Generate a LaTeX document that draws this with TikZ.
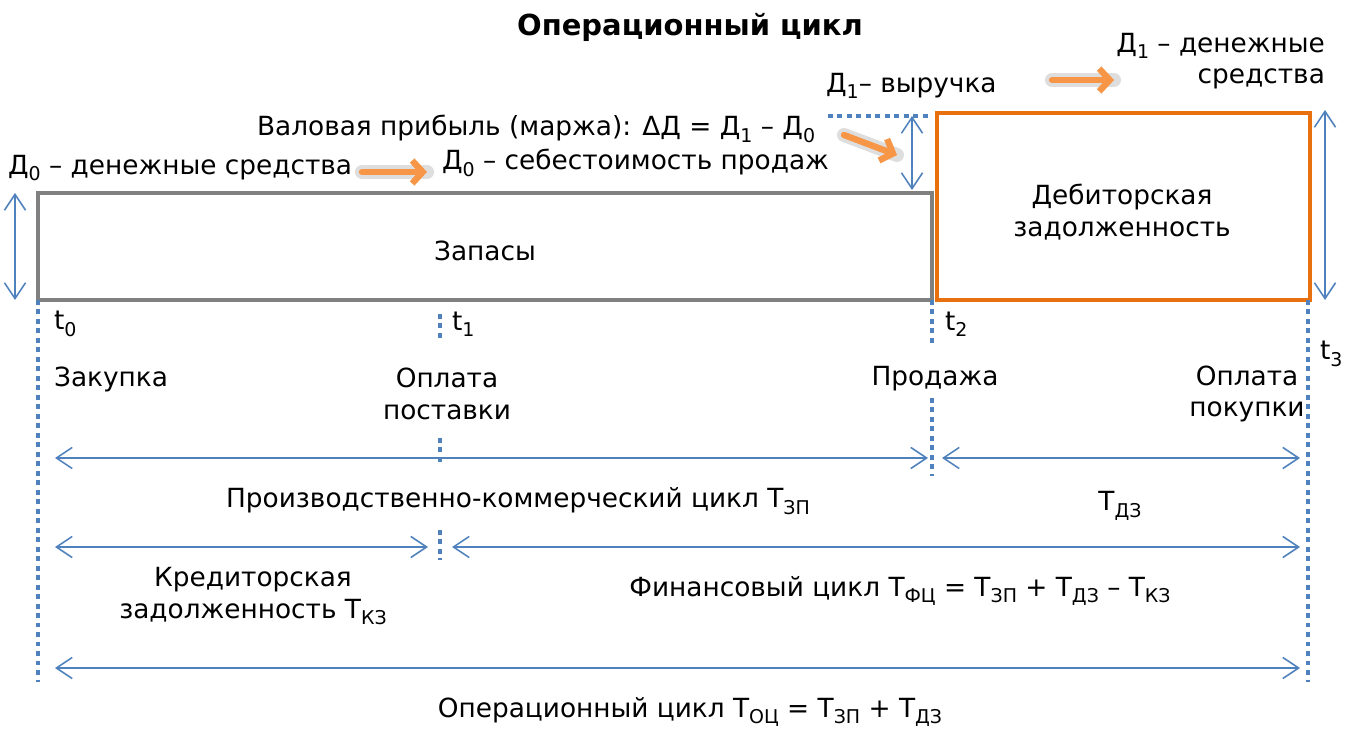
\documentclass[tikz,border=0pt]{standalone}
\usepackage{fontspec}
\setmainfont{DejaVu Sans}
\usepackage{tikz}
\usetikzlibrary{arrows.meta,positioning,calc}
\definecolor{cycblue}{HTML}{4F81BD}
\definecolor{boxorange}{HTML}{E8700F}
\definecolor{arrorange}{HTML}{F79646}
\definecolor{boxgray}{HTML}{808080}
\newcommand{\lo}[1]{\raisebox{-0.45ex}{\scalebox{0.72}{#1}}}

\begin{document}
\begin{tikzpicture}[x=0.02cm, y=-0.02cm, every node/.style={font=\fontsize{15}{18}\selectfont, inner sep=1pt}, >={Straight Barb[length=9pt,width=12pt]},
  span/.style={<->, draw=cycblue, line width=0.9pt},
  tick/.style={draw=cycblue, line width=2.8pt, dash pattern=on 2.8pt off 2.6pt},
  flow/.style={-{Straight Barb[length=6pt,width=13pt]}, draw=arrorange, line width=3.6pt, line cap=round},
  halo/.style={draw=black!13, line width=8pt, line cap=round}]
\useasboundingbox (0,0) rectangle (1356,729);

\node[font=\bfseries\fontsize{16.5}{19}\selectfont] (title) at (690,27) {Операционный цикл};

% stocks and receivables
\node[draw=boxgray, line width=2.3pt, minimum width=17.88cm, minimum height=2.14cm, inner sep=0pt] (stock) at (485,246.5) {};
\node (stocklbl) at (485,251) {Запасы};
\node[draw=boxorange, line width=2.3pt, minimum width=7.46cm, minimum height=3.74cm, inner sep=0pt] (recv) at (1123.5,206.5) {};
\node[align=center] (recvlbl) at (1122,212) {Дебиторская\\задолженность};

% time points
\coordinate (t0) at (38,300);
\coordinate (t1) at (440,300);
\coordinate (t2) at (932,300);
\coordinate (t3) at (1308,300);
\node[anchor=west] (t0lbl) at (52,324) {t\lo{0}};
\node[anchor=west] (t1lbl) at (450,324) {t\lo{1}};
\node[anchor=west] (t2lbl) at (943,324) {t\lo{2}};
\node[anchor=west] (t3lbl) at (1318,354) {t\lo{3}};

\draw[tick] (t0) -- ++(0,382);
\draw[tick] (t3) -- ++(0,382);
\draw[tick] ($(t1)+(0,14)$) -- ++(0,27);
\draw[tick] ($(t1)+(0,138)$) -- ++(0,28);
\draw[tick] ($(t1)+(0,230)$) -- ++(0,30);
\draw[tick] (t2) -- ++(0,46);
\draw[tick] ($(t2)+(0,98)$) -- ++(0,78);

\node[anchor=west] (buy) at (52,379) {Закупка};
\node[align=center] (paysup) at (447,394) {Оплата\\поставки};
\node (sale) at (935,379) {Продажа};
\node[align=center] (paycust) at (1247,394) {Оплата\\покупки};

% vertical spans
\draw[span] (15,193) -- (15,300);
\draw[span] (1325,110) -- (1325,300);
\draw[span] (912,116) -- (912,190);
\draw[tick] (828,116) -- (930,116);

% cycles
\draw[span] ($(t0)+(17,158)$) -- ($(t2)+(-4,158)$);
\draw[span] ($(t2)+(10,158)$) -- ($(t3)+(-8,158)$);
\node (tzp) at (518,501) {Производственно-коммерческий цикл Т\lo{ЗП}};
\node (tdz) at (1120,506) {Т\lo{ДЗ}};
\draw[span] ($(t0)+(17,247)$) -- ($(t1)+(-12,247)$);
\draw[span] ($(t1)+(12,247)$) -- ($(t3)+(-8,247)$);
\node[align=center] (tkz) at (253,596) {Кредиторская\\задолженность Т\lo{КЗ}};
\node (tfc) at (900,591) {Финансовый цикл Т\lo{ФЦ} = Т\lo{ЗП} + Т\lo{ДЗ} – Т\lo{КЗ}};
\draw[span] ($(t0)+(17,368)$) -- ($(t3)+(-8,368)$);
\node (toc) at (690,712) {Операционный цикл Т\lo{ОЦ} = Т\lo{ЗП} + Т\lo{ДЗ}};

% money flows
\node[anchor=west] (cash0) at (6,168) {Д\lo{0} – денежные средства};
\node[anchor=west] (cost0) at (440,163) {Д\lo{0} – себестоимость продаж};
\node[anchor=west] (margin) at (255,129) {Валовая прибыль (маржа): ΔД = Д\lo{1} – Д\lo{0}};
\node[anchor=west] (rev1) at (824,86) {Д\lo{1}– выручка};
\node[align=right, anchor=north east] (cash1) at (1327,31) {Д\lo{1} – денежные\\средства};

\coordinate (f1a) at (362,172);
\coordinate (f1b) at (427,172);
\coordinate (f2a) at (844,135);
\coordinate (f2b) at (897,155);
\coordinate (f3a) at (1052,80);
\coordinate (f3b) at (1114,80);
\foreach \a/\b in {f1a/f1b, f2a/f2b, f3a/f3b} {
  \draw[halo] (\a) -- (\b);
  \draw[flow] (\a) -- (\b);
}
\end{tikzpicture}
\end{document}
